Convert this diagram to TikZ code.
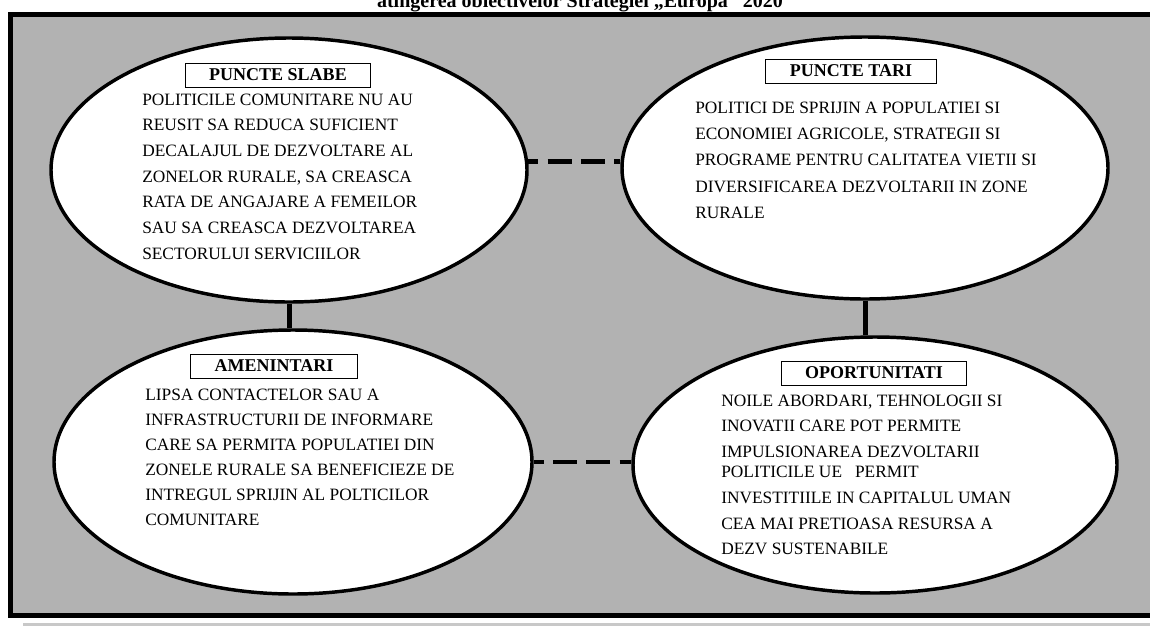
\documentclass[tikz,border=0pt]{standalone}
\usepackage{fontspec}
\setmainfont{Liberation Serif}
\usetikzlibrary{shapes.geometric}
\definecolor{panel}{RGB}{178,178,178}
\definecolor{rulegray}{RGB}{200,200,200}
\begin{document}
\begin{tikzpicture}[x=0.75pt,y=-0.75pt,
    oval/.style={ellipse, draw, line width=2.6pt, fill=white, inner sep=0pt},
    headbox/.style={draw, line width=0.75pt, fill=white, inner xsep=18pt, inner ysep=0pt,
        minimum height=18pt, font=\fontsize{13.5}{16}\selectfont\bfseries},
    bodytext/.style={anchor=north west, align=left, inner sep=0pt,
        font=\fontsize{13}{19.25}\selectfont},
    link/.style={line width=3.75pt},
    dashlink/.style={line width=3.4pt, dash pattern=on 18pt off 7pt, dash phase=10.5pt}]
    \useasboundingbox (0,0) rectangle (1150,626);
    \node[anchor=base, font=\fontsize{15}{18}\selectfont\bfseries] (title) at (580,7)
        {atingerea obiectivelor Strategiei „Europa” 2020};
    \fill[rulegray] (23,623) rectangle (1150,626);
    \draw[line width=3.75pt, fill=panel] (10.5,14.5) rectangle (1160,615.5);
    \node[oval, minimum width=357pt, minimum height=198pt] (slabe) at (289,170) {};
    \node[oval, minimum width=364.5pt, minimum height=196.5pt] (tari) at (865,168) {};
    \node[oval, minimum width=358.5pt, minimum height=198pt] (amenintari) at (293,462) {};
    \node[oval, minimum width=363pt, minimum height=192pt] (oport) at (875,465) {};
    \draw[link] (slabe.south) -- (slabe.south |- amenintari.north);
    \draw[link] (tari.south) -- (tari.south |- oport.north);
    \draw[dashlink] (slabe.2.5) -- (slabe.2.5 -| tari.west);
    \draw[dashlink] (amenintari.east) -- (amenintari.east -| oport.west);
    \node[headbox] (hslabe) at (278,75) {PUNCTE SLABE};
    \node[headbox] (htari) at (851,71) {PUNCTE TARI};
    \node[headbox] (hamen) at (274,366) {AMENINTARI};
    \node[headbox] (hoport) at (874,373) {OPORTUNITATI};
    \node[bodytext] (tslabe) at (142,93.5) {POLITICILE COMUNITARE NU AU\\
        REUSIT SA REDUCA SUFICIENT\\DECALAJUL DE DEZVOLTARE AL\\
        ZONELOR RURALE, SA CREASCA\\RATA DE ANGAJARE A FEMEILOR\\
        SAU SA CREASCA DEZVOLTAREA\\SECTORULUI SERVICIILOR};
    \node[bodytext] (ttari) at (695,101.5) {POLITICI DE SPRIJIN A POPULATIEI SI\\[0.5pt]
        ECONOMIEI AGRICOLE, STRATEGII SI\\[0.5pt]PROGRAME PENTRU CALITATEA VIETII SI\\[0.5pt]
        DIVERSIFICAREA DEZVOLTARII IN ZONE\\[0.5pt]RURALE};
    \node[bodytext] (tamen) at (145,388.5) {LIPSA CONTACTELOR SAU A\\[-0.5pt]
        INFRASTRUCTURII DE INFORMARE\\[-0.5pt]CARE SA PERMITA POPULATIEI DIN\\[-0.5pt]
        ZONELE RURALE SA BENEFICIEZE DE\\[-0.5pt]INTREGUL SPRIJIN AL POLTICILOR\\[-0.5pt]
        COMUNITARE};
    \node[bodytext] (toport) at (721,394.5) {NOILE ABORDARI, TEHNOLOGII SI\\
        INOVATII CARE POT PERMITE\\IMPULSIONAREA DEZVOLTARII\\[-4pt]
        POLITICILE UE \ \ PERMIT\\INVESTITIILE IN CAPITALUL UMAN\\
        CEA MAI PRETIOASA RESURSA A\\DEZV SUSTENABILE};
\end{tikzpicture}
\end{document}
